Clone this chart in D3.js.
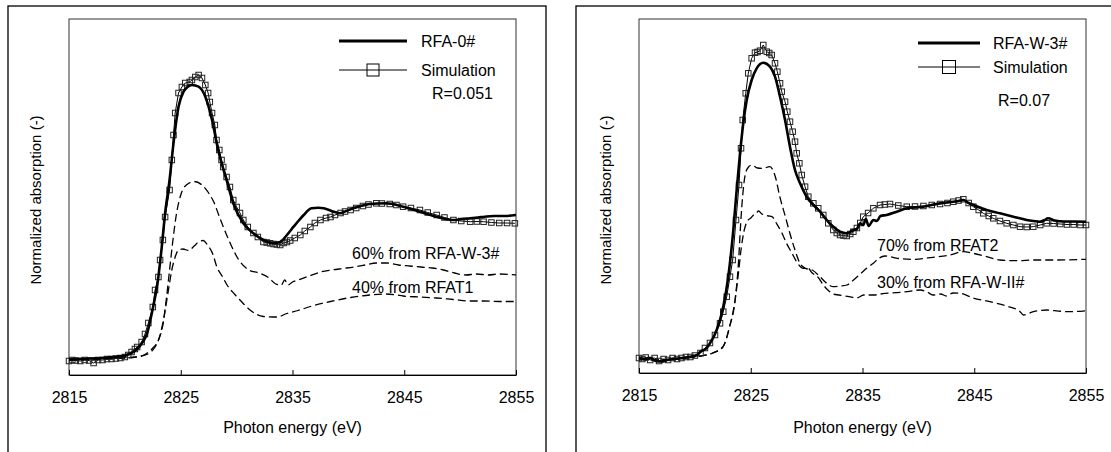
<!DOCTYPE html>
<html><head><meta charset="utf-8">
<script src="https://cdn.jsdelivr.net/npm/d3@7"></script>
<style>
html,body{margin:0;padding:0;background:#fff;}
svg{display:block;font-family:"Liberation Sans",Arial,sans-serif;}
</style></head>
<body><svg id="c" width="1111" height="452"></svg>
<script>
// ---------- DATA ----------
const energyTicks = [2815, 2825, 2835, 2845, 2855];
const xTitle = "Photon energy (eV)";
const yTitle = "Normalized absorption (-)";

// Left panel: measured RFA-0#
const rfa0 = [[2815,.155],[2816,.16],[2817,.165],[2818,.17],[2819,.18],[2820,.195],[2820.5,.215],[2821,.25],[2821.6,.33],[2822.0,.42],[2822.3,.56],[2822.6,.72],[2822.9,.90],[2823.3,1.28],[2823.6,1.617],[2824.0,1.95],[2824.35,2.317],[2824.8,2.683],[2825.25,2.833],[2825.6,2.88],[2826.0,2.90],[2826.6,2.883],[2827.2,2.783],[2827.8,2.55],[2828.35,2.25],[2829.1,1.95],[2829.7,1.717],[2830.6,1.517],[2831.5,1.417],[2832.4,1.35],[2833.3,1.317],[2833.9,1.33],[2834.5,1.40],[2835.1,1.483],[2835.6,1.55],[2836.0,1.60],[2836.7,1.667],[2837.3,1.672],[2837.8,1.667],[2838.7,1.633],[2839.25,1.617],[2839.8,1.64],[2840.4,1.667],[2841.1,1.69],[2841.9,1.71],[2843.4,1.717],[2844.9,1.683],[2846.4,1.633],[2847.9,1.583],[2849.4,1.55],[2850.2,1.56],[2850.9,1.567],[2851.6,1.575],[2852.2,1.583],[2853,1.59],[2854,1.59],[2855,1.60]];
// Left panel: simulation (squares)
const simLeft = [[2815,.14],[2815.3,.15],[2815.6,.145],[2816,.14],[2816.4,.15],[2816.8,.145],[2817.2,.12],[2817.6,.15],[2818,.15],[2818.4,.16],[2818.8,.16],[2819.2,.165],[2819.6,.17],[2820,.18],[2820.3,.2],[2820.6,.23],[2820.9,.26],[2821.1,.28],[2821.5,.33],[2821.8,.41],[2822.1,.52],[2822.5,.68],[2822.7,.85],[2823.0,.98],[2823.15,1.15],[2823.4,1.35],[2823.6,1.58],[2824.0,1.85],[2824.2,2.15],[2824.35,2.40],[2824.5,2.62],[2824.8,2.82],[2825.1,2.88],[2825.4,2.92],[2825.8,2.93],[2826.0,2.95],[2826.3,2.98],[2826.6,3.0],[2826.9,2.97],[2827.2,2.9],[2827.45,2.82],[2827.6,2.73],[2827.8,2.62],[2828.05,2.5],[2828.2,2.35],[2828.45,2.25],[2828.65,2.15],[2828.8,2.08],[2829.1,1.98],[2829.4,1.88],[2829.7,1.75],[2830.0,1.68],[2830.3,1.62],[2830.6,1.55],[2831.0,1.48],[2831.5,1.42],[2831.9,1.38],[2832.4,1.33],[2832.7,1.325],[2833.0,1.317],[2833.3,1.31],[2833.6,1.305],[2833.9,1.30],[2834.2,1.32],[2834.5,1.33],[2834.8,1.345],[2835.2,1.37],[2835.7,1.40],[2836.1,1.44],[2836.6,1.48],[2837.0,1.52],[2837.5,1.55],[2838.0,1.57],[2838.4,1.58],[2838.8,1.60],[2839.3,1.62],[2839.7,1.635],[2840.2,1.65],[2840.7,1.67],[2841.3,1.69],[2841.8,1.705],[2842.5,1.717],[2843.0,1.715],[2843.7,1.71],[2844.3,1.70],[2844.9,1.683],[2845.6,1.67],[2846.4,1.65],[2847.1,1.625],[2847.9,1.60],[2848.6,1.575],[2849.4,1.55],[2850.1,1.54],[2850.9,1.533],[2851.5,1.535],[2852.1,1.533],[2852.8,1.525],[2853.5,1.52],[2854.2,1.52],[2854.9,1.517]];
// Left panel: 60% from RFA-W-3#
const frac60 = [[2815,.15],[2818,.16],[2820,.17],[2821,.18],[2821.5,.19],[2822,.22],[2822.5,.27],[2823,.35],[2823.4,.50],[2823.7,.75],[2824.0,1.05],[2824.3,1.35],[2824.6,1.6],[2825.0,1.80],[2825.5,1.90],[2826.2,1.935],[2826.9,1.90],[2827.5,1.82],[2828.0,1.72],[2828.4,1.60],[2829.3,1.35],[2830.2,1.15],[2831.1,1.05],[2832.0,1.02],[2832.9,.97],[2833.5,.91],[2834.0,.90],[2834.3,.95],[2834.6,.90],[2835.0,.93],[2835.5,.95],[2836.5,.99],[2837.5,1.03],[2838.5,1.05],[2839.5,1.065],[2840.5,1.08],[2841.5,1.10],[2842.5,1.12],[2843.5,1.12],[2844.5,1.10],[2845.5,1.09],[2846.5,1.08],[2847.5,1.07],[2848.5,1.05],[2849.5,1.02],[2850.5,1.00],[2851.5,1.01],[2852.5,1.00],[2853.5,1.01],[2855,1.00]];
// Left panel: 40% from RFAT1
const frac40 = [[2815,.15],[2817,.155],[2819,.165],[2820.5,.175],[2821.5,.19],[2822.2,.22],[2822.7,.28],[2823.1,.38],[2823.5,.58],[2823.9,.85],[2824.2,1.05],[2824.5,1.18],[2824.8,1.25],[2825.2,1.26],[2825.7,1.245],[2826.2,1.29],[2826.6,1.33],[2827.0,1.345],[2827.4,1.30],[2827.9,1.20],[2828.2,1.09],[2828.7,.99],[2829.2,.89],[2829.8,.81],[2830.3,.75],[2831.2,.65],[2832.4,.585],[2833.6,.58],[2834.5,.615],[2835.5,.645],[2836.6,.685],[2838.4,.735],[2840.2,.775],[2841.9,.80],[2843.4,.81],[2844.3,.80],[2844.9,.79],[2846.4,.78],[2847.9,.77],[2849.4,.755],[2850.9,.74],[2852.1,.74],[2853.5,.735],[2855,.735]];

// Right panel: measured RFA-W-3#
const rfaW3 = [[2815,.15],[2815.5,.14],[2816,.15],[2816.5,.12],[2817,.115],[2817.5,.13],[2818,.14],[2818.7,.147],[2819.5,.16],[2820.2,.18],[2820.5,.213],[2821.06,.25],[2821.35,.297],[2821.95,.43],[2822.54,.663],[2822.99,.963],[2823.44,1.43],[2823.74,1.83],[2824.04,2.197],[2824.33,2.497],[2824.64,2.73],[2825.08,2.93],[2825.53,3.047],[2826.12,3.103],[2826.72,3.063],[2827.17,2.963],[2827.62,2.763],[2828.07,2.53],[2828.51,2.263],[2828.96,2.03],[2829.41,1.897],[2830.0,1.763],[2830.6,1.68],[2831.2,1.613],[2831.8,1.53],[2832.39,1.463],[2832.99,1.413],[2833.59,1.397],[2834.18,1.43],[2834.5,1.44],[2834.78,1.497],[2835.07,1.48],[2835.3,1.54],[2835.55,1.47],[2835.97,1.53],[2836.3,1.52],[2836.6,1.57],[2837.16,1.58],[2838.06,1.613],[2838.96,1.647],[2839.7,1.655],[2840.45,1.663],[2841.2,1.68],[2841.94,1.697],[2843.13,1.713],[2843.6,1.72],[2844.02,1.73],[2844.5,1.70],[2844.92,1.68],[2846.11,1.63],[2847.3,1.597],[2848.5,1.563],[2849.69,1.53],[2850.3,1.52],[2850.88,1.513],[2851.3,1.53],[2851.6,1.547],[2852.2,1.525],[2853,1.515],[2854,1.515],[2855,1.513]];
// Right panel: simulation (squares)
const simRight = [[2815,.15],[2815.3,.14],[2815.6,.155],[2816,.13],[2816.4,.15],[2816.8,.12],[2817.2,.14],[2817.6,.13],[2818,.15],[2818.4,.14],[2818.8,.15],[2819.2,.16],[2819.6,.16],[2820,.175],[2820.5,.20],[2820.9,.25],[2821.35,.30],[2821.8,.38],[2822.25,.497],[2822.54,.613],[2822.85,.763],[2823.14,.963],[2823.38,1.13],[2823.68,1.53],[2823.95,1.88],[2824.13,2.247],[2824.28,2.53],[2824.55,2.797],[2824.78,2.997],[2825.08,3.147],[2825.38,3.203],[2825.6,3.21],[2825.83,3.223],[2826.12,3.28],[2826.43,3.213],[2826.65,3.2],[2826.87,3.18],[2827.17,3.097],[2827.38,3.013],[2827.62,2.897],[2827.77,2.813],[2828.07,2.713],[2828.27,2.613],[2828.51,2.513],[2828.75,2.413],[2828.96,2.313],[2829.11,2.197],[2829.35,2.097],[2829.56,1.98],[2829.86,1.863],[2830.15,1.763],[2830.6,1.697],[2831.04,1.647],[2831.49,1.58],[2831.94,1.497],[2832.39,1.43],[2832.7,1.40],[2832.99,1.38],[2833.3,1.375],[2833.59,1.37],[2833.9,1.39],[2834.18,1.413],[2834.5,1.45],[2834.8,1.50],[2835.07,1.563],[2835.5,1.60],[2835.97,1.647],[2836.57,1.68],[2837.0,1.685],[2837.46,1.69],[2838.2,1.675],[2838.96,1.663],[2839.7,1.665],[2840.45,1.67],[2841.2,1.68],[2841.94,1.69],[2842.6,1.70],[2843.13,1.713],[2843.6,1.725],[2844.02,1.737],[2844.5,1.70],[2844.92,1.663],[2845.4,1.63],[2845.81,1.597],[2846.3,1.57],[2846.7,1.547],[2847.3,1.52],[2847.9,1.497],[2848.5,1.48],[2849.1,1.463],[2849.7,1.46],[2850.28,1.463],[2850.9,1.48],[2851.48,1.497],[2852.1,1.495],[2852.7,1.49],[2853.3,1.485],[2853.9,1.485],[2854.5,1.48],[2855,1.48]];
// Right panel: 70% from RFAT2
const frac70 = [[2815,.14],[2817,.13],[2819,.15],[2820.5,.17],[2821.6,.20],[2822.5,.26],[2823.1,.46],[2823.6,.73],[2823.9,1.1],[2824.1,1.5],[2824.3,1.8],[2824.5,1.98],[2824.8,2.06],[2825.1,2.08],[2825.6,2.05],[2826.1,2.047],[2826.7,2.063],[2827.2,1.963],[2827.6,1.763],[2828.1,1.563],[2828.5,1.397],[2828.96,1.23],[2829.4,1.097],[2829.9,1.047],[2830.5,1.03],[2831.2,.963],[2831.8,.897],[2832.4,.863],[2833.0,.87],[2833.6,.88],[2834.2,.93],[2834.8,.99],[2835.4,1.05],[2836.0,1.10],[2836.5,1.15],[2837.0,1.17],[2838.1,1.147],[2839.55,1.137],[2841.3,1.157],[2842.8,1.18],[2844.0,1.213],[2844.9,1.197],[2846.1,1.163],[2847.3,1.13],[2848.8,1.123],[2850.3,1.13],[2852.1,1.13],[2855,1.137]];
// Right panel: 30% from RFA-W-II#
const frac30 = [[2815,.14],[2817,.13],[2819,.15],[2820.5,.17],[2821.6,.20],[2822.5,.26],[2823.1,.46],[2823.6,.73],[2823.9,1.0],[2824.15,1.25],[2824.4,1.42],[2824.65,1.51],[2825.0,1.55],[2825.25,1.58],[2825.5,1.60],[2825.7,1.62],[2826.0,1.59],[2826.3,1.58],[2826.6,1.57],[2826.9,1.563],[2827.3,1.497],[2827.8,1.397],[2828.2,1.297],[2828.7,1.197],[2829.1,1.113],[2829.7,1.047],[2830.1,1.05],[2830.5,1.00],[2831.0,.96],[2831.5,.88],[2831.9,.83],[2832.4,.79],[2832.9,.78],[2833.8,.763],[2834.5,.75],[2835.1,.78],[2836.0,.78],[2837.0,.797],[2837.5,.80],[2839.0,.813],[2840.15,.83],[2840.8,.81],[2841.3,.78],[2842.0,.79],[2842.5,.77],[2843.1,.80],[2843.7,.797],[2844.9,.75],[2846.4,.713],[2847.9,.67],[2849.1,.613],[2849.4,.58],[2850.3,.613],[2851.5,.63],[2852.2,.623],[2853.5,.613],[2855,.623]];

const legendLeft = ["RFA-0#", "Simulation", "R=0.051"];
const legendRight = ["RFA-W-3#", "Simulation", "R=0.07"];
const notesLeft = ["60% from RFA-W-3#", "40% from RFAT1"];
const notesRight = ["70% from RFAT2", "30% from RFA-W-II#"];

// ---------- DRAW ----------
const svg = d3.select("#c");
const FONT = 16;

const panels = [
  {frame:[8,6,538,470], x0:69, x1:516, y0:19, y1:375, yMax:3.56,
   exp:rfa0, sim:simLeft, dA:frac60, dB:frac40, legend:legendLeft, notes:notesLeft,
   leg:{lx0:339, lx1:407, ly1:41, ly2:70, tx:421, rx:432, ry:93, sq:12},
   noteX:352, noteY:[253,287], yTitleX:36, yTitleY:200},
  {frame:[576,6,560,470], x0:639, x1:1086, y0:19, y1:373, yMax:3.54,
   exp:rfaW3, sim:simRight, dA:frac70, dB:frac30, legend:legendRight, notes:notesRight,
   leg:{lx0:918, lx1:980, ly1:43, ly2:67, tx:993, rx:998, ry:100, sq:13},
   noteX:877, noteY:[245,282], yTitleX:606, yTitleY:200}
];

panels.forEach(p => {
  const g = svg.append("g");
  g.append("rect").attr("x",p.frame[0]).attr("y",p.frame[1]).attr("width",p.frame[2]).attr("height",p.frame[3])
    .attr("fill","none").attr("stroke","#000").attr("stroke-width",1.3);

  const x = d3.scaleLinear().domain([energyTicks[0], energyTicks[energyTicks.length-1]]).range([p.x0, p.x1]);
  const y = d3.scaleLinear().domain([0, p.yMax]).range([p.y1, p.y0]);

  g.append("rect").attr("x",p.x0).attr("y",p.y0).attr("width",p.x1-p.x0).attr("height",p.y1-p.y0)
    .attr("fill","none").attr("stroke","#333").attr("stroke-width",1);

  const ax = g.append("g").attr("transform",`translate(0,${p.y1})`)
    .call(d3.axisBottom(x).tickValues(energyTicks).tickFormat(d3.format("d")).tickSizeInner(-5).tickSizeOuter(0).tickPadding(17));
  ax.select(".domain").attr("stroke","#000");
  ax.selectAll(".tick line").attr("stroke","#000");
  ax.selectAll("text").attr("font-size",FONT).attr("fill","#000").style("font-family","'Liberation Sans',Arial,sans-serif");

  g.append("text").attr("x",(p.x0+p.x1)/2).attr("y",427).attr("dy","0.35em").attr("text-anchor","middle")
    .attr("font-size",FONT).text(xTitle);
  g.append("text").attr("transform",`translate(${p.yTitleX},${p.yTitleY}) rotate(-90)`).attr("dy","0.35em")
    .attr("text-anchor","middle").attr("font-size",15).text(yTitle);

  const smooth = d3.line().x(d=>x(d[0])).y(d=>y(d[1])).curve(d3.curveMonotoneX);
  const lin = d3.line().x(d=>x(d[0])).y(d=>y(d[1]));

  g.append("path").datum(p.dA).attr("d",smooth).attr("fill","none").attr("stroke","#000")
    .attr("stroke-width",1.3).attr("stroke-dasharray","8,4");
  g.append("path").datum(p.dB).attr("d",smooth).attr("fill","none").attr("stroke","#000")
    .attr("stroke-width",1.3).attr("stroke-dasharray","8,4");

  g.append("path").datum(p.sim).attr("d",lin).attr("fill","none").attr("stroke","#000").attr("stroke-width",1);
  g.append("g").selectAll("rect").data(p.sim).join("rect")
    .attr("x",d=>x(d[0])-2.75).attr("y",d=>y(d[1])-2.75).attr("width",5.5).attr("height",5.5)
    .attr("fill","none").attr("stroke","#222").attr("stroke-width",1);

  g.append("path").datum(p.exp).attr("d",smooth).attr("fill","none").attr("stroke","#000").attr("stroke-width",2.6);

  const L = p.leg;
  g.append("line").attr("x1",L.lx0).attr("x2",L.lx1).attr("y1",L.ly1).attr("y2",L.ly1).attr("stroke","#000").attr("stroke-width",3);
  g.append("line").attr("x1",L.lx0).attr("x2",L.lx1).attr("y1",L.ly2).attr("y2",L.ly2).attr("stroke","#000").attr("stroke-width",1);
  g.append("rect").attr("x",(L.lx0+L.lx1)/2-L.sq/2).attr("y",L.ly2-L.sq/2).attr("width",L.sq).attr("height",L.sq)
    .attr("fill","none").attr("stroke","#000").attr("stroke-width",1);
  g.append("text").attr("x",L.tx).attr("y",L.ly1).attr("dy","0.35em").attr("font-size",FONT).text(p.legend[0]);
  g.append("text").attr("x",L.tx).attr("y",L.ly2).attr("dy","0.35em").attr("font-size",FONT).text(p.legend[1]);
  g.append("text").attr("x",L.rx).attr("y",L.ry).attr("dy","0.35em").attr("font-size",FONT).text(p.legend[2]);

  p.notes.forEach((t,i) => {
    g.append("text").attr("x",p.noteX).attr("y",p.noteY[i]).attr("dy","0.35em").attr("font-size",FONT).text(t);
  });
});
</script></body></html>
